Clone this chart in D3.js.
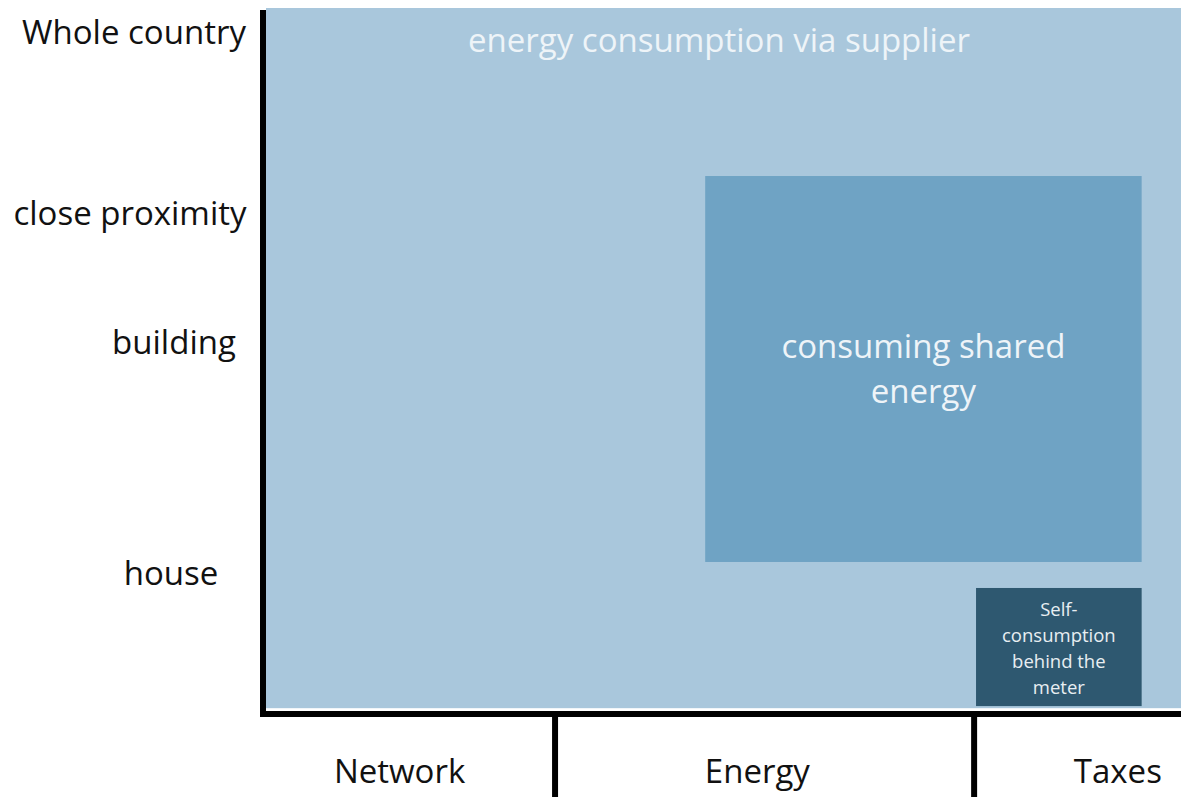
<!DOCTYPE html>
<html>
<head>
<meta charset="utf-8">
<script src="https://cdn.jsdelivr.net/npm/d3@7"></script>
<style>
  html, body { margin: 0; padding: 0; background: #fff; }
  svg { display: block; }
  text { font-family: "Open Sans", "Noto Sans", sans-serif; }
</style>
</head>
<body>
<script>
// scope levels on the vertical axis (in chart units, 0 = bottom, 100 = top)
const levels = ["Whole country", "close proximity", "building", "house"];
const levelValues = [96.4, 70.7, 52.3, 19.5];

// cost components on the horizontal axis (chart units 0..100)
const components = ["Network", "Energy", "Taxes"];
const componentStarts = [0, 31.7, 77.5];
const componentEnds = [31.7, 77.5, 100];
const componentLabelAt = [14.6, 53.7, 93.1];

// the three nested regimes
const regimes = ["energy consumption via supplier", "consuming shared energy", "Self-consumption behind the meter"];
const regimeX0 = [0, 48.0, 77.6];
const regimeX1 = [100, 95.7, 95.7];
const regimeY0 = [0.4, 21.2, 0.7];
const regimeY1 = [100, 76.1, 17.5];
const regimeLines = [
    ["energy consumption via supplier"],
    ["consuming shared", "energy"],
    ["Self-", "consumption", "behind the", "meter"]
];
const regimeColors = ["#a9c7dc", "#6fa3c4", "#2e5870"];

const width = 1181, height = 797;
const svg = d3.select("body").append("svg")
    .attr("width", width)
    .attr("height", height);

const x = d3.scaleLinear().domain([0, 100]).range([266, 1181]);
const y = d3.scaleLinear().domain([0, 100]).range([711, 8]);

// regime rectangles
const boxes = svg.append("g").selectAll("g")
    .data(regimes)
    .join("g");

boxes.append("rect")
    .attr("x", (d, i) => x(regimeX0[i]))
    .attr("y", (d, i) => y(regimeY1[i]))
    .attr("width", (d, i) => x(regimeX1[i]) - x(regimeX0[i]))
    .attr("height", (d, i) => y(regimeY0[i]) - y(regimeY1[i]))
    .attr("fill", (d, i) => regimeColors[i]);

// box labels
const labelStyle = [
    {size: 33, top: 52, lead: 45, fill: "#eef4f8"},
    {size: 33, top: 358, lead: 45, fill: "#eef4f8"},
    {size: 18.5, top: 616, lead: 26, fill: "#e8eef2"}
];
boxes.each(function(d, i) {
    const cx = i === 0 ? 719 : (x(regimeX0[i]) + x(regimeX1[i])) / 2;
    d3.select(this).append("text")
        .attr("text-anchor", "middle")
        .attr("font-size", `${labelStyle[i].size}px`)
        .attr("fill", labelStyle[i].fill)
        .selectAll("tspan")
        .data(regimeLines[i])
        .join("tspan")
        .attr("x", cx)
        .attr("y", (t, j) => labelStyle[i].top + j * labelStyle[i].lead)
        .text(t => t);
});

// axes drawn as thick black lines
const axisG = svg.append("g").attr("stroke", "#000").attr("stroke-width", 6);
axisG.append("line")
    .attr("x1", 263).attr("x2", 263)
    .attr("y1", y(100) + 2).attr("y2", 717);
axisG.append("line")
    .attr("x1", 260).attr("x2", width)
    .attr("y1", 714).attr("y2", 714);
axisG.selectAll(".sep")
    .data(componentStarts.slice(1))
    .join("line")
    .attr("class", "sep")
    .attr("x1", d => x(d) - 1).attr("x2", d => x(d) - 1)
    .attr("y1", 714).attr("y2", height);

// level labels (left)
const levelCenter = [134, 130, 174, 171];
svg.append("g").selectAll("text")
    .data(levels)
    .join("text")
    .attr("x", (d, i) => levelCenter[i])
    .attr("y", (d, i) => y(levelValues[i]) + 11)
    .attr("text-anchor", "middle")
    .attr("font-size", "33px")
    .attr("fill", "#111")
    .text(d => d);

// component labels (bottom)
svg.append("g").selectAll("text")
    .data(components)
    .join("text")
    .attr("x", (d, i) => x(componentLabelAt[i]))
    .attr("y", 783)
    .attr("text-anchor", "middle")
    .attr("font-size", "33px")
    .attr("fill", "#111")
    .text(d => d);
</script>
</body>
</html>
